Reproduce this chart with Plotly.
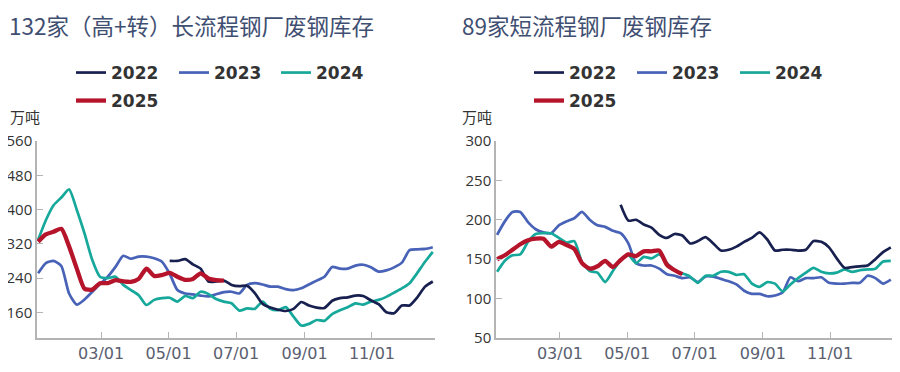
import datetime as dt
import plotly.graph_objects as go

# ---------------- data ----------------
years = ["2022", "2023", "2024", "2025"]
colors = {"2022": "#18204f", "2023": "#4762b6", "2024": "#16a89a", "2025": "#b5142b"}
widths = {"2022": 2.7, "2023": 2.7, "2024": 2.7, "2025": 4.3}

start = dt.date(2023, 1, 3)
week_dates = [(start + dt.timedelta(days=7 * k)).isoformat() for k in range(52)]

# 132家（高+转）长流程钢厂废钢库存 (万吨)
long_2022_start = 17
long_2022 = [280, 280, 284, 272, 262, 232, 232, 234, 224, 221, 222, 205, 180, 171, 166, 163,
             168, 184, 176, 171, 170, 187, 193, 195, 199, 198, 188, 179, 160, 158, 176, 176,
             195, 220, 232]
long_2023 = [251, 275, 280, 268, 204, 178, 190, 208, 226, 243, 266, 292, 285, 290, 290, 286,
             278, 250, 212, 204, 202, 199, 197, 202, 207, 208, 204, 224, 228, 225, 220, 220,
             214, 212, 216, 225, 234, 243, 266, 262, 262, 269, 271, 265, 255, 258, 265, 276,
             305, 307, 308, 312]
long_2024 = [329, 375, 410, 428, 447, 399, 344, 282, 243, 240, 243, 224, 212, 200, 177, 189,
             193, 194, 185, 198, 193, 208, 203, 191, 185, 181, 164, 169, 168, 185, 168, 165,
             172, 150, 129, 133, 142, 140, 156, 165, 172, 181, 178, 185, 189, 196, 206, 216,
             228, 252, 278, 301]
long_2025 = [325, 342, 348, 355, 314, 262, 215, 213, 228, 228, 235, 232, 231, 238, 262, 245,
             247, 252, 243, 236, 238, 251, 239, 235, 234]

# 89家短流程钢厂废钢库存 (万吨)
short_2022_start = 16
short_2022 = [219, 199, 200, 194, 190, 181, 177, 182, 180, 170, 173, 178, 170, 161, 162, 166,
              172, 177, 184, 175, 161, 162, 162, 161, 162, 173, 172, 165, 151, 139, 140,
              141, 142, 150, 159, 165]
short_2023 = [181, 198, 210, 210, 197, 188, 184, 183, 193, 198, 202, 210, 200, 193, 191, 186,
              183, 170, 145, 142, 142, 138, 131, 129, 126, 127, 121, 128, 128, 125, 122, 118,
              110, 106, 106, 103, 104, 108, 127, 122, 126, 126, 127, 120, 119, 119, 120, 120,
              129, 126, 119, 124]
short_2024 = [134, 148, 155, 156, 172, 182, 183, 183, 177, 171, 173, 146, 135, 133, 121, 135,
              149, 155, 145, 153, 151, 156, 145, 136, 132, 128, 120, 129, 129, 134, 134, 130,
              131, 119, 115, 121, 119, 109, 118, 126, 133, 139, 134, 132, 133, 137, 134, 136,
              137, 138, 147, 148]
short_2025 = [150, 155, 162, 169, 174, 176, 176, 166, 172, 168, 163, 145, 138, 141, 148, 140,
              149, 156, 154, 160, 160, 161, 143, 136, 131]

long_series = {"2022": (long_2022_start, long_2022), "2023": (0, long_2023),
               "2024": (0, long_2024), "2025": (0, long_2025)}
short_series = {"2022": (short_2022_start, short_2022), "2023": (0, short_2023),
                "2024": (0, short_2024), "2025": (0, short_2025)}

long_ticks = [160, 240, 320, 400, 480, 560]
short_ticks = [50, 100, 150, 200, 250, 300]
x_ticks = ["2023-03-01", "2023-05-01", "2023-07-01", "2023-09-01", "2023-11-01"]
x_ticklabels = ["03/01", "05/01", "07/01", "09/01", "11/01"]

# ---------------- figure ----------------
# the page body adds an 8px offset, so the figure is drawn 8px smaller
OFF = 8
W, H = 900 - OFF, 372 - OFF
fig = go.Figure()

def px_x(p):
    return (p - OFF) / W

def px_y(p):
    return 1 - (p - OFF) / H

legend_pos = {  # panel -> year -> (left px, center y px) in screen coords
    "L": {"2022": (71, 73), "2023": (174, 73), "2024": (276, 73), "2025": (71, 101)},
    "R": {"2022": (529, 73), "2023": (632, 73), "2024": (735, 73), "2025": (529, 101)},
}

legend_layouts = {}
n = 0
for panel, series, xa, ya in (("L", long_series, "x", "y"), ("R", short_series, "x2", "y2")):
    order = ["2023", "2024", "2022", "2025"]
    for yr in order:
        s0, vals = series[yr]
        n += 1
        lname = "legend" if n == 1 else f"legend{n}"
        fig.add_trace(go.Scatter(
            x=week_dates[s0:s0 + len(vals)], y=vals, name=yr, mode="lines",
            line=dict(color=colors[yr], width=widths[yr], shape="spline", smoothing=0.6),
            xaxis=xa, yaxis=ya, legend=lname, hoverinfo="x+y+name",
        ))
        lx, ly = legend_pos[panel][yr]
        legend_layouts[lname] = dict(
            x=px_x(lx), y=px_y(ly), xanchor="left", yanchor="middle",
            orientation="h", bgcolor="rgba(0,0,0,0)", borderwidth=0,
            font=dict(family="DejaVu Sans", size=17, color="#333333", weight="bold"),
            itemwidth=30,
        )

axis_common = dict(
    showline=True, linecolor="#b4b4b4", linewidth=1.5, ticks="inside",
    tickcolor="#b4b4b4", ticklen=6, tickwidth=1.3, showgrid=False, zeroline=False,
)
xfont = dict(family="DejaVu Sans", size=16, color="#5a6070")
yfont = dict(family="Open Sans", size=15, color="#333333")

fig.update_layout(
    width=W, height=H, margin=dict(l=0, r=0, t=0, b=0, autoexpand=False),
    paper_bgcolor="white", plot_bgcolor="white", showlegend=True,
    xaxis=dict(domain=[px_x(37), px_x(435)], type="date",
               range=["2023-01-02", "2023-12-28"],
               tickvals=x_ticks, ticktext=x_ticklabels, tickfont=xfont,
               anchor="y", **axis_common),
    yaxis=dict(domain=[px_y(338), px_y(141)], range=[100, 560], tickvals=long_ticks,
               tickfont=yfont, anchor="x", **axis_common),
    xaxis2=dict(domain=[px_x(496), px_x(893)], type="date",
                range=["2023-01-02", "2023-12-28"],
                tickvals=x_ticks, ticktext=x_ticklabels, tickfont=xfont,
                anchor="y2", **axis_common),
    yaxis2=dict(domain=[px_y(338), px_y(141)], range=[50, 300], tickvals=short_ticks,
                tickfont=yfont, anchor="x2", **axis_common),
    **legend_layouts,
)

title_font = dict(family="Noto Sans CJK SC", size=22.5, color="#3f4f72")
fig.add_annotation(text="132家（高+转）长流程钢厂废钢库存", x=0, y=1,
                   xref="paper", yref="paper", xanchor="left", yanchor="top",
                   showarrow=False, font=title_font, borderpad=0)
fig.add_annotation(text="89家短流程钢厂废钢库存", x=px_x(461), y=1,
                   xref="paper", yref="paper", xanchor="left", yanchor="top",
                   showarrow=False, font=title_font, borderpad=0)
unit_font = dict(family="Noto Sans CJK SC", size=15, color="#333333")
fig.add_annotation(text="万吨", x=0, y=px_y(116), xref="paper", yref="paper",
                   xanchor="left", yanchor="middle", showarrow=False, font=unit_font)
fig.add_annotation(text="万吨", x=px_x(460), y=px_y(116), xref="paper", yref="paper",
                   xanchor="left", yanchor="middle", showarrow=False, font=unit_font)

fig.write_html("out.html")
